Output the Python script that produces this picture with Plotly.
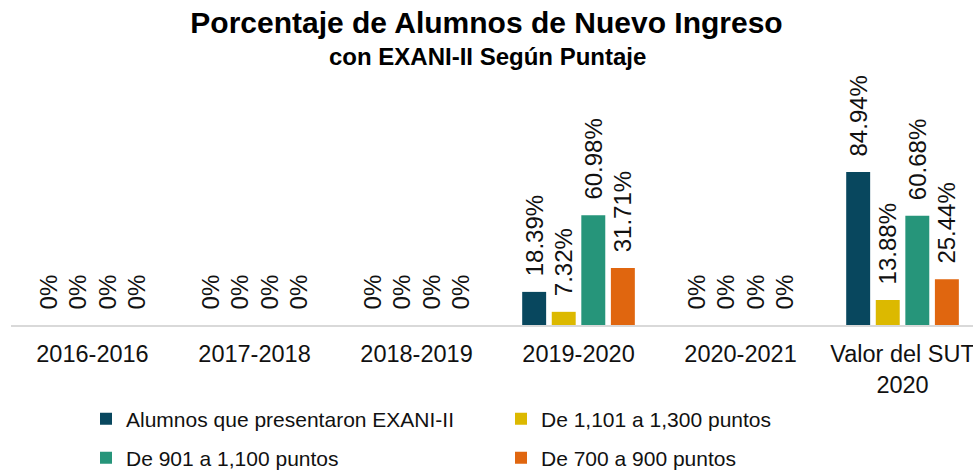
import plotly.graph_objects as go

categories = ["2016-2016", "2017-2018", "2018-2019", "2019-2020", "2020-2021", "Valor del SUT<br>2020"]
series_names = ["Alumnos que presentaron EXANI-II", "De 1,101 a 1,300 puntos",
                "De 901 a 1,100 puntos", "De 700 a 900 puntos"]
alumnos_exani = [0, 0, 0, 18.39, 0, 84.94]
de_1101_1300 = [0, 0, 0, 7.32, 0, 13.88]
de_901_1100 = [0, 0, 0, 60.98, 0, 60.68]
de_700_900 = [0, 0, 0, 31.71, 0, 25.44]
series_values = [alumnos_exani, de_1101_1300, de_901_1100, de_700_900]
colors = ["#08475e", "#dcb900", "#26957a", "#e0660f"]
legend_ids = ["legend", "legend", "legend2", "legend2"]

FONT = "Liberation Sans, Arial, sans-serif"
LABEL_GAP = 7.0  # invisible spacer (data units) between bar top and its label


def fmt(v):
    return "0%" if v == 0 else f"{v:.2f}%"


fig = go.Figure()
for i, (name, vals) in enumerate(zip(series_names, series_values)):
    fig.add_trace(go.Bar(
        x=categories, y=vals, name=name, offsetgroup=str(i),
        marker=dict(color=colors[i], line=dict(width=0)),
        legend=legend_ids[i], hoverinfo="x+y",
    ))
    # transparent spacer bar carrying the value label above the real bar
    fig.add_trace(go.Bar(
        x=categories, y=[LABEL_GAP] * len(vals), base=vals, offsetgroup=str(i),
        marker=dict(color="rgba(0,0,0,0)", line=dict(width=0)),
        text=[fmt(v) for v in vals], textposition="outside", textangle=-90,
        constraintext="none", cliponaxis=False,
        textfont=dict(family=FONT, size=24, color="#111111"),
        showlegend=False, hoverinfo="skip",
    ))

fig.update_layout(
    width=973, height=470,
    barmode="group", bargap=0.27, bargroupgap=0.19,
    plot_bgcolor="white", paper_bgcolor="white",
    margin=dict(l=11, r=0, t=60, b=145, autoexpand=False),
    font=dict(family=FONT, color="#111111"),
    title=dict(text="<b>Porcentaje de Alumnos de Nuevo Ingreso</b>",
               x=0.5, xanchor="center", xref="container",
               y=1 - 22 / 470, yanchor="middle", yref="container",
               font=dict(family=FONT, size=30, color="#000000")),
    annotations=[dict(text="<b>con EXANI-II Según Puntaje</b>", xref="paper", yref="paper",
                      x=(487 - 11) / 962, y=(325 - 56) / 265, xanchor="center", yanchor="middle",
                      showarrow=False, font=dict(family=FONT, size=24, color="#000000"))],
    xaxis=dict(type="category", range=[-0.503, 5.435], showgrid=False, zeroline=False,
               showline=True, linecolor="#d9d9d9", linewidth=2, ticks="",
               tickfont=dict(family=FONT, size=23.5, color="#111111"),
               ticklabelstandoff=7, automargin=False, fixedrange=True),
    yaxis=dict(range=[0, 147.2], visible=False, showgrid=False, zeroline=False,
               automargin=False, fixedrange=True),
    legend=dict(orientation="h", xref="container", yref="container",
                x=86 / 973, y=1 - 419 / 470, xanchor="left", yanchor="middle",
                entrywidth=370, entrywidthmode="pixels",
                font=dict(family=FONT, size=21, color="#111111"),
                bgcolor="rgba(0,0,0,0)"),
    legend2=dict(orientation="h", xref="container", yref="container",
                 x=86 / 973, y=1 - 458 / 470, xanchor="left", yanchor="middle",
                 entrywidth=370, entrywidthmode="pixels",
                 font=dict(family=FONT, size=21, color="#111111"),
                 bgcolor="rgba(0,0,0,0)"),
)

fig.write_html("out.html", config={"displayModeBar": False},
               post_script="document.body.style.margin='0';document.body.style.overflow='hidden';")
